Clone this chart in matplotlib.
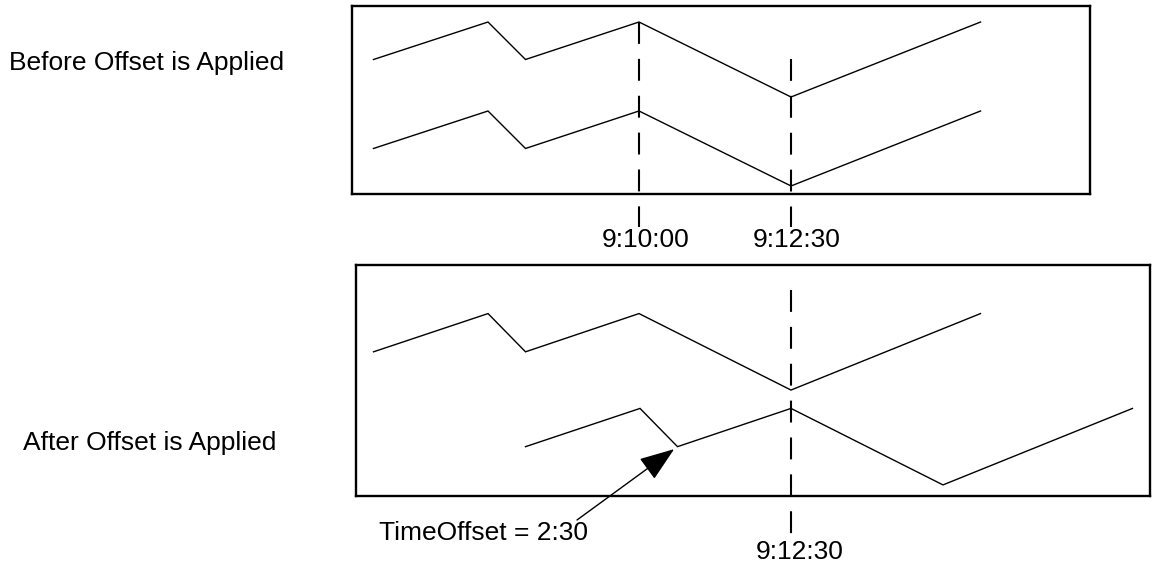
import matplotlib
matplotlib.use("Agg")
import matplotlib.pyplot as plt
import matplotlib.transforms as mtransforms

plt.rcParams['font.family'] = ['Liberation Sans', 'DejaVu Sans']

# sample times, seconds after 9:00:00
sample_times = [338, 451, 488, 600, 750, 937]
upper_levels = [1, 2, 1, 2, 0, 2]
lower_levels = [1, 2, 1, 2, 0, 2]
time_offset = 150            # 2:30
marker_times = [600, 750]    # 9:10:00, 9:12:30
marker_labels = ["9:10:00", "9:12:30"]

W, H = 1153, 566
fig = plt.figure(figsize=(W / 100, H / 100), dpi=100)


def box(left, top, right, bottom):
    return [left / W, 1 - bottom / H, (right - left) / W, (bottom - top) / H]


def fx(x):
    return x / W


def fy(y):
    return 1 - y / H


def style(ax):
    ax.set_xticks([])
    ax.set_yticks([])
    for s in ax.spines.values():
        s.set_linewidth(1.7)


line_kw = dict(color='black', lw=1.0, solid_joinstyle='miter')
dash_kw = dict(color='black', lw=1.5, linestyle=(0, (10.5, 7.2)), clip_on=False)

# ---- before offset ----
ax1 = fig.add_axes(box(352, 6, 1090, 194))
style(ax1)
gap1 = 2.373
ax1.plot(sample_times, upper_levels, **line_kw)
ax1.plot(sample_times, [v - gap1 for v in lower_levels], **line_kw)
ax1.set_xlim(316.8, 1045)
ax1.set_ylim(-2.587, 2.427)
tr1 = mtransforms.blended_transform_factory(ax1.transData, ax1.transAxes)
ax1.plot([marker_times[0]] * 2, [0.915, -0.176], transform=tr1, **dash_kw)
ax1.plot([marker_times[1]] * 2, [0.718, -0.176], transform=tr1, **dash_kw)

fig.text(fx(646), fy(240), marker_labels[0], fontsize=19, ha='center', va='center')
fig.text(fx(797), fy(240), marker_labels[1], fontsize=19, ha='center', va='center')
fig.text(fx(9), fy(63), "Before Offset is Applied", fontsize=19, ha='left', va='center')

# ---- after offset ----
ax2 = fig.add_axes(box(356, 265, 1150, 496))
style(ax2)
gap2 = 2.48
shifted_times = [t + time_offset for t in sample_times]
ax2.plot(sample_times, upper_levels, **line_kw)
ax2.plot(shifted_times, [v - gap2 for v in lower_levels], **line_kw)
ax2.set_xlim(320.7, 1104.3)
ax2.set_ylim(-2.77, 3.27)
tr2 = mtransforms.blended_transform_factory(ax2.transData, ax2.transAxes)
ax2.plot([marker_times[1]] * 2, [0.892, -0.212], transform=tr2, **dash_kw)

fig.text(fx(800), fy(552), marker_labels[1], fontsize=19, ha='center', va='center')
fig.text(fx(23), fy(443), "After Offset is Applied", fontsize=19, ha='left', va='center')
fig.text(fx(379), fy(533), "TimeOffset = 2:30", fontsize=19, ha='left', va='center')

ax2.annotate("", xy=(shifted_times[2], lower_levels[2] - gap2),
             xytext=(577, H - 520), textcoords='figure pixels',
             arrowprops=dict(arrowstyle='-|>,head_length=2.2,head_width=0.8',
                             mutation_scale=10, color='black', lw=1.0,
                             shrinkA=0, shrinkB=3))

fig.savefig("out.png", dpi=100)
